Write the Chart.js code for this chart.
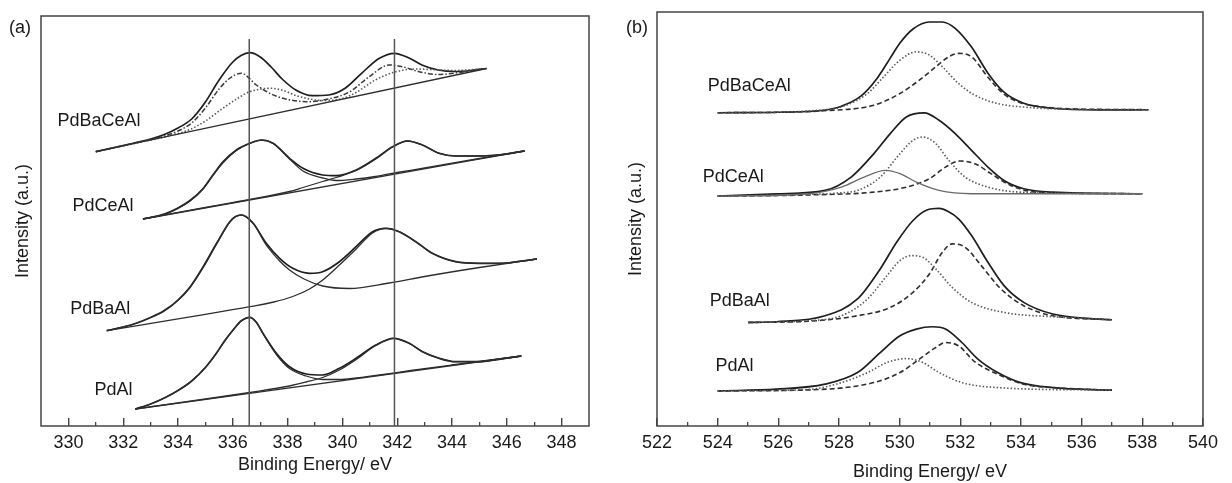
<!DOCTYPE html>
<html>
<head>
<meta charset="utf-8">
<script src="https://cdn.jsdelivr.net/npm/chart.js@4/dist/chart.umd.min.js"></script>
<style>
  html, body { margin: 0; padding: 0; background: #fff; }
  #wrap { position: relative; width: 1232px; height: 483px; }
  canvas { position: absolute; top: 0; }
  #chartA { left: 0; }
  #chartB { left: 610px; }
  .tag { position: absolute; top: 17px; font: 18px "Liberation Sans", Arial, sans-serif; color: #1a1a1a; }
</style>
</head>
<body>
<div id="wrap">
  <canvas id="chartA" width="610" height="483"></canvas>
  <canvas id="chartB" width="622" height="483"></canvas>
  <div class="tag" style="left:9px">(a)</div>
  <div class="tag" style="left:626px">(b)</div>
</div>
<script>
// =============================================================================
// XPS spectra: (a) Pd 3d, (b) O 1s
// =============================================================================

// ---------------------------------------------------------------------------
// Panel (a) data  [binding energy, intensity a.u.]
// ---------------------------------------------------------------------------
const ticksA = [330, 332, 334, 336, 338, 340, 342, 344, 346, 348];
const minorA = [331, 333, 335, 337, 339, 341, 343, 345, 347];
const vLinesA = [336.6, 341.9];
const vLineTopA = 387;

const namesA = ["PdBaCeAl", "PdCeAl", "PdBaAl", "PdAl"];
const nameXA = [329.6, 330.15, 330.07, 330.95];
const nameYA = [305, 220, 117, 36];

const aBaCeEnv = [[331.0,274.3],[332.0,280.5],[333.0,287],[333.5,291.5],[334.0,298],[334.5,307],[335.0,324],[335.5,346],[336.0,364],[336.3,370.5],[336.62,373.3],[337.0,369],[337.4,359],[337.8,347],[338.3,336],[338.9,330.3],[339.5,331],[340.1,337.7],[340.7,352.7],[341.35,367.7],[341.9,372.7],[342.45,367.7],[342.9,361],[343.5,356],[344.1,354.5],[344.7,355.5],[345.26,357.5]];
const aBaCeBg = [[331.0,274.3],[345.26,357.5]];
const aBaCeMetal = [[331.0,274.3],[332.5,283.5],[333.5,290],[334.0,295],[334.5,303],[335.0,318],[335.5,337],[335.9,348],[336.31,352.7],[336.86,341],[337.35,332.7],[337.83,327.7],[338.68,324.3],[339.5,327],[340.25,334],[340.98,349.3],[341.71,361],[342.19,359.3],[342.8,354.3],[343.5,351.5],[344.13,353],[344.7,355.5],[345.26,357.5]];
const aBaCeOxide = [[331.0,274.3],[332.5,283],[333.5,289],[334.44,296.5],[335.0,305],[335.65,318],[336.2,328],[336.62,334.3],[337.4,337.7],[337.9,335],[338.3,330.5],[339.3,325.5],[340.0,327.5],[340.5,333.5],[341.2,346],[341.95,354.3],[342.68,357],[343.53,356],[344.13,355.5],[344.7,356.3],[345.26,357.5]];

const aCeEnv = [[332.72,207],[333.5,212],[334.0,218],[334.44,225.5],[334.9,237],[335.3,252],[335.65,264.3],[336.13,276],[336.62,282.7],[337.04,286],[337.47,282.7],[338.07,267.7],[338.56,257.7],[339.28,251],[339.77,250.3],[340.5,256],[341.22,267.7],[341.83,279.3],[342.38,285],[342.92,281],[343.53,272.7],[344.13,270],[344.74,270],[345.68,271],[346.65,275]];
const aCeBg = [[332.72,207],[346.65,275]];
const aCeP1 = [[332.72,207],[333.5,211.5],[334.0,217.5],[334.44,225],[334.9,236.5],[335.3,251.5],[335.65,263.5],[336.13,275.5],[336.62,282.5],[337.04,285.8],[337.47,282.5],[338.07,267],[338.56,255],[339.28,248],[339.77,245.5],[340.5,247],[341.2,249.5],[342.0,253.5],[343.0,258],[344.0,262.8],[345.0,267.5],[346.65,275]];
const aCeP2 = [[332.72,207],[335.0,218.5],[336.62,226.5],[338.07,234.5],[338.56,238.5],[339.28,244.5],[339.77,248.5],[340.5,255.5],[341.22,267],[341.83,279],[342.38,285],[342.92,281],[343.53,272.7],[344.13,270],[344.74,270],[345.68,271],[346.65,275]];

const aBaEnv = [[331.4,95.3],[332.0,99],[332.5,103],[333.0,108.5],[333.5,115.5],[334.0,126],[334.44,139],[334.92,159.3],[335.41,182.7],[335.89,204.3],[336.1,209.5],[336.31,211],[336.74,202.7],[337.22,182.7],[337.71,167.7],[338.19,157.7],[338.8,152.7],[339.28,154.3],[339.89,164.3],[340.5,179.3],[341.1,194.3],[341.59,197.7],[342.07,194.3],[342.68,184.3],[343.28,172.7],[344.13,164.3],[344.98,162.7],[345.71,162.7],[347.1,167]];
const aBaP1 = [[331.4,95.3],[332.0,99],[332.5,103],[333.0,108.5],[333.5,115],[334.0,125.5],[334.44,138.5],[334.92,158.5],[335.41,182],[335.89,204],[336.1,209.3],[336.31,211],[336.74,203],[337.22,181],[337.71,165],[338.07,156],[338.6,147],[339.28,140],[340.25,137.5],[341.71,143],[343.0,149.5],[345.0,158.5],[347.1,167]];
const aBaP2 = [[331.4,95.3],[334.44,109.2],[336.62,119.3],[337.5,124],[338.19,129.5],[338.8,137],[339.28,146],[339.89,161],[340.5,177],[341.1,193],[341.59,197.7],[342.07,194.3],[342.68,184.3],[343.28,172.7],[344.13,164.3],[344.98,162.7],[345.71,162.7],[347.1,167]];

const aAlEnv = [[332.44,17],[333.0,22],[333.5,28],[334.0,35.5],[334.5,45],[335.0,58.5],[335.4,72.7],[335.7,85],[336.01,96],[336.3,105],[336.62,108.7],[336.85,104],[337.1,92.7],[337.59,72.7],[338.07,59.3],[338.68,52],[339.28,51],[339.89,57.7],[340.5,67.7],[341.22,81],[341.87,87.7],[342.44,82.7],[342.92,74.3],[343.53,67.7],[344.13,64.3],[344.98,64.3],[345.71,66.7],[346.53,70]];
const aAlBg = [[332.44,17],[346.53,70]];
const aAlP1 = [[332.44,17],[333.0,22],[333.5,28],[334.0,35.5],[334.5,45],[335.0,58.5],[335.4,72.7],[335.7,85],[336.01,96],[336.3,105],[336.62,108.7],[336.85,104],[337.1,92.5],[337.59,71.5],[338.07,57.5],[338.68,50],[339.28,46.5],[339.89,46.5],[340.5,48],[341.22,50.5],[342.5,55.5],[344.0,61],[346.53,70]];
const aAlP2 = [[332.44,17],[335.0,27],[336.62,33.5],[338.07,40],[338.68,44],[339.28,48.5],[339.89,56],[340.5,66.5],[341.22,80.5],[341.87,87.7],[342.44,82.7],[342.92,74.3],[343.53,67.7],[344.13,64.3],[344.98,64.3],[345.71,66.7],[346.53,70]];

// ---------------------------------------------------------------------------
// Panel (b) data
// ---------------------------------------------------------------------------
const ticksB = [522, 524, 526, 528, 530, 532, 534, 536, 538, 540];
const minorB = [523, 525, 527, 529, 531, 533, 535, 537, 539];

const namesB = ["PdBaCeAl", "PdCeAl", "PdBaAl", "PdAl"];
const nameXB = [523.67, 523.51, 523.74, 523.93];
const nameYB = [339, 248, 125, 60];

const bBaCeEnv = [[524.0,312.5],[526.0,313],[527.5,315],[528.08,319],[528.72,329],[529.26,347],[529.69,367],[530.01,382],[530.44,396],[530.98,403],[531.41,403],[531.83,396.7],[532.37,378],[532.91,352],[533.44,333],[534.09,322],[535.05,317],[536.56,315.3],[538.2,315.5]];
const bBaCeDot = [[524.0,312.5],[526.0,313],[527.3,315],[528.08,318.3],[528.94,331.7],[529.47,348.3],[530.01,365],[530.55,373.3],[530.98,370],[531.41,358.3],[531.94,341.7],[532.48,330],[533.23,321.7],[534.3,317.7],[535.6,316],[538.2,315.5]];
const bBaCeDash = [[524.0,312.5],[526.0,313],[527.5,314.5],[529.15,320],[530.01,331.7],[530.65,345],[531.19,358.3],[531.62,368.3],[531.94,371.7],[532.37,368.3],[532.91,348],[533.44,331],[533.98,322.5],[534.73,318.3],[535.6,316.5],[538.2,315.5]];

const bCeEnv = [[524.0,229.3],[525.93,231.5],[527.54,235],[528.4,248.3],[529.15,271.7],[529.69,291.7],[530.22,308.3],[530.81,312.3],[531.3,305],[531.83,291.7],[532.37,275],[532.91,258.3],[533.44,245],[534.09,236.7],[535.05,233.3],[538.0,231.7]];
const bCeDot = [[524.0,229.3],[527.0,231],[528.0,232.5],[528.61,235],[529.36,248.3],[530.01,271.7],[530.44,285],[530.76,288.3],[531.19,281.7],[531.62,265],[532.16,248.3],[532.91,238.3],[533.98,233.3],[538.0,231.7]];
const bCeDash = [[524.0,229.3],[527.0,230.5],[529.15,233.3],[530.22,238.3],[530.98,246.7],[531.51,258.3],[531.99,264.3],[532.48,261.7],[533.01,251.7],[533.66,240],[534.52,233.3],[538.0,231.7]];
const bCeLow = [[524.0,229.3],[527.0,231.7],[528.08,238.3],[528.83,248.3],[529.53,255],[530.01,251.7],[530.55,243.3],[531.3,235],[532.37,231.7],[538.0,231.7]];

const bBaEnv = [[525.0,103.3],[525.93,104],[527.54,110],[528.61,126.7],[529.36,156.7],[529.9,183.3],[530.44,205],[530.9,215.5],[531.3,217],[531.6,214],[531.94,206.7],[532.37,190],[532.91,163.3],[533.44,140],[534.09,123.3],[535.05,111.7],[536.56,106.7],[537.0,106]];
const bBaDot = [[525.0,103.3],[527.0,105],[528.08,110],[528.94,126.7],[529.58,150],[530.01,165],[530.38,170],[530.76,168.3],[531.19,156.7],[531.73,138.3],[532.37,123.3],[533.44,113.3],[535.05,109],[537.0,106]];
const bBaDash = [[525.0,103.3],[527.0,104.5],[528.61,110],[529.69,118.3],[530.44,133.3],[530.98,151.7],[531.41,173.3],[531.73,181.7],[532.16,178.3],[532.69,160],[533.34,136.7],[534.09,120],[535.05,110],[537.0,106]];

const bAlEnv = [[524.0,35],[525.93,36.7],[527.54,41.7],[528.61,53.3],[529.36,73.3],[530.01,90],[530.55,96.7],[531.08,99],[531.51,96.7],[532.05,83.3],[532.58,66.7],[533.23,53.3],[533.98,43.3],[535.05,38.3],[537.0,35.7]];
const bAlDot = [[524.0,35],[527.0,36.5],[528.08,43.3],[528.94,53.3],[529.58,63.3],[530.22,67.3],[530.76,63.3],[531.3,53.3],[532.05,43.3],[533.23,38.3],[537.0,35.7]];
const bAlDash = [[524.0,35],[527.0,36],[529.15,43.3],[530.01,53.3],[530.65,66.7],[531.19,78.3],[531.51,83.3],[531.94,80],[532.48,64],[533.23,51.7],[534.09,41.7],[535.05,38.3],[537.0,35.7]];

// ---------------------------------------------------------------------------
// Styles
// ---------------------------------------------------------------------------
const FONT = '"Liberation Sans", Arial, sans-serif';
const INK = "#1a1a1a";

const SOLID = { borderColor: "#1e1e1e", borderWidth: 1.7 };
const THIN = { borderColor: "#2e2e2e", borderWidth: 1.3 };
const GREY = { borderColor: "#6a6a6a", borderWidth: 1.3 };
const DOT = { borderColor: "#5a5a5a", borderWidth: 1.6, borderDash: [1.5, 2] };
const DASH = { borderColor: "#2e2e2e", borderWidth: 1.6, borderDash: [5, 3] };
const DASHDOT = { borderColor: "#3a3a3a", borderWidth: 1.5, borderDash: [5, 2, 1.5, 2] };
const VLINE = { borderColor: "#555", borderWidth: 1.5, tension: 0 };

function curve(arr, style) {
  return Object.assign({ xAxisID: "x", yAxisID: "y", data: arr.map(p => ({ x: p[0], y: p[1] })) }, style);
}

function vline(x, top) {
  return curve([[x, 0], [x, top]], VLINE);
}

// frame around the plot area
const frame = {
  id: "frame",
  beforeDatasetsDraw(chart) {
    const { ctx, chartArea: a } = chart;
    ctx.save();
    ctx.strokeStyle = "#444";
    ctx.lineWidth = 1.5;
    ctx.strokeRect(a.left, a.top, a.right - a.left, a.bottom - a.top);
    ctx.restore();
  }
};

// sample names placed in data coordinates
const tags = {
  id: "tags",
  afterDatasetsDraw(chart, args, opts) {
    const { ctx, scales: { x, y } } = chart;
    ctx.save();
    ctx.font = "18px " + FONT;
    ctx.fillStyle = INK;
    ctx.textBaseline = "middle";
    opts.names.forEach((n, i) => ctx.fillText(n, x.getPixelForValue(opts.xs[i]), y.getPixelForValue(opts.ys[i])));
    ctx.restore();
  }
};

function makeChart(id, c) {
  return new Chart(document.getElementById(id), {
    type: "line",
    data: { datasets: c.datasets },
    options: {
      responsive: false,
      animation: false,
      layout: { padding: { top: c.top, right: c.right, left: 0, bottom: 0 } },
      plugins: {
        legend: { display: false },
        tooltip: { enabled: false },
        tags: { names: c.names, xs: c.nameX, ys: c.nameY }
      },
      elements: {
        point: { radius: 0 },
        line: { tension: 0.4, cubicInterpolationMode: "monotone", fill: false }
      },
      scales: {
        x: {
          type: "linear", position: "bottom", weight: 1, min: c.xmin, max: c.xmax,
          afterBuildTicks: s => { s.ticks = c.ticks.map(v => ({ value: v })); },
          afterFit: s => { s.height = 57; },
          ticks: { padding: 14, color: INK, font: { family: FONT, size: 18 } },
          grid: { drawOnChartArea: false, tickLength: -8, color: "#444", lineWidth: 1.4 },
          border: { display: false },
          title: { display: true, text: "Binding Energy/ eV", color: INK, font: { family: FONT, size: 18 }, padding: { top: 0, bottom: c.xtPad } }
        },
        xm: {
          type: "linear", position: "bottom", weight: 0, min: c.xmin, max: c.xmax,
          afterBuildTicks: s => { s.ticks = c.minor.map(v => ({ value: v })); },
          afterFit: s => { s.height = 0; },
          ticks: { display: false },
          grid: { drawOnChartArea: false, tickLength: -4, color: "#444", lineWidth: 1.3 },
          border: { display: false }
        },
        y: {
          type: "linear", min: 0, max: c.ymax,
          afterFit: s => { s.width = c.left; },
          ticks: { display: false },
          grid: { display: false },
          border: { display: false },
          title: { display: true, text: "Intensity (a.u.)", color: INK, font: { family: FONT, size: 18 }, padding: { top: c.ytPad, bottom: 0 } }
        }
      }
    },
    plugins: [frame, tags]
  });
}

// ---------------------------------------------------------------------------
// Panel (a)
// ---------------------------------------------------------------------------
makeChart("chartA", {
  xmin: 329, xmax: 349, ymax: 410,
  top: 16, right: 21, left: 41, xtPad: 7, ytPad: 12,
  ticks: ticksA, minor: minorA,
  names: namesA, nameX: nameXA, nameY: nameYA,
  datasets: [
    ...vLinesA.map(v => vline(v, vLineTopA)),
    curve(aBaCeBg, THIN), curve(aBaCeOxide, DOT), curve(aBaCeMetal, DASHDOT), curve(aBaCeEnv, SOLID),
    curve(aCeBg, THIN), curve(aCeP1, THIN), curve(aCeP2, THIN), curve(aCeEnv, SOLID),
    curve(aBaP1, THIN), curve(aBaP2, THIN), curve(aBaEnv, SOLID),
    curve(aAlBg, THIN), curve(aAlP1, THIN), curve(aAlP2, THIN), curve(aAlEnv, SOLID),
  ]
});

// ---------------------------------------------------------------------------
// Panel (b)
// ---------------------------------------------------------------------------
makeChart("chartB", {
  xmin: 522, xmax: 540, ymax: 413,
  top: 12, right: 15, left: 47, xtPad: 0, ytPad: 15,
  ticks: ticksB, minor: minorB,
  names: namesB, nameX: nameXB, nameY: nameYB,
  datasets: [
    curve(bBaCeDot, DOT), curve(bBaCeDash, DASH), curve(bBaCeEnv, SOLID),
    curve(bCeLow, GREY), curve(bCeDot, DOT), curve(bCeDash, DASH), curve(bCeEnv, SOLID),
    curve(bBaDot, DOT), curve(bBaDash, DASH), curve(bBaEnv, SOLID),
    curve(bAlDot, DOT), curve(bAlDash, DASH), curve(bAlEnv, SOLID),
  ]
});
</script>
</body>
</html>
